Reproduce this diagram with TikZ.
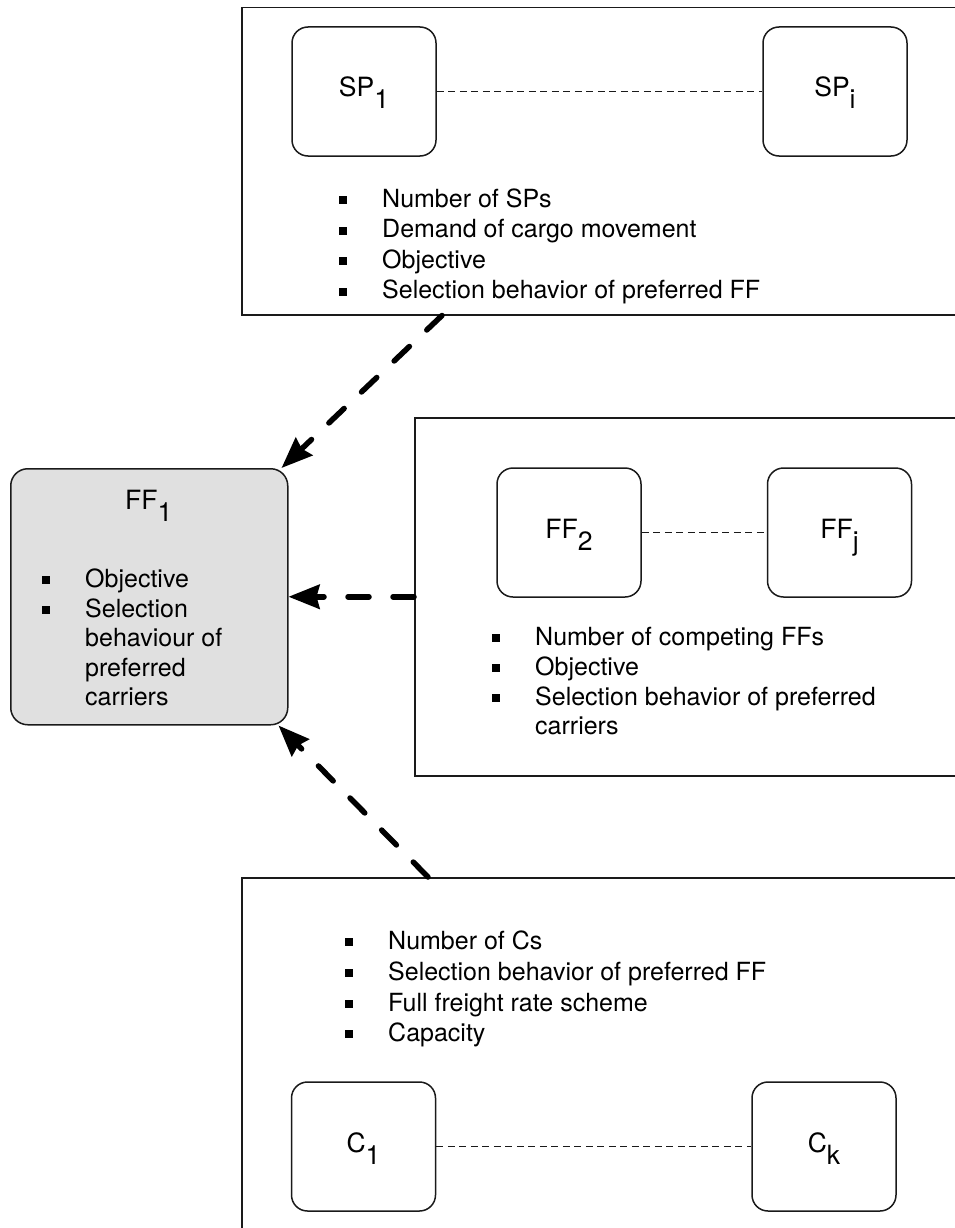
\documentclass[tikz,border=0pt]{standalone}
\usepackage{fontspec}
\setmainfont{TeX Gyre Heros}
\usetikzlibrary{arrows.meta}

\definecolor{panelgray}{HTML}{E0E0E0}
\definecolor{ink}{HTML}{1A1A1A}

% square bullet hung to the left of an item's text
\newcommand\sqb{\makebox[0pt][r]{\rule[3pt]{8pt}{8pt}\hspace{35pt}}}
% subscript set at full size, dropped below the baseline
\newcommand\lowsub[1]{\raisebox{-12pt}{#1}}

\tikzset{
  panel/.style={draw=ink, line width=1.5pt, anchor=north west, inner sep=0pt},
  agent/.style={draw=ink, line width=1.5pt, rounded corners=16pt,
    minimum width=144pt, minimum height=129pt, inner sep=0pt,
    font=\fontsize{26.5}{30}\selectfont, text height=11pt, text depth=0pt},
  item/.style={anchor=base west, inner sep=0pt, font=\fontsize{25}{30}\selectfont},
  link/.style={draw=ink, line width=1.5pt, dash pattern=on 7pt off 4.5pt},
  flow/.style={draw=black, line width=5.5pt, line cap=round,
    dash pattern=on 21pt off 24pt,
    -{Stealth[length=31pt,width=24pt,inset=3pt]}},
}

\begin{document}
\begin{tikzpicture}[x=1pt,y=-1pt]
\useasboundingbox (0,0) rectangle (955,1228);

% ---- shippers panel ----
\node[panel, minimum width=721pt, minimum height=307pt] (spbox) at (241,7) {};
\node[agent] (sp1) at (364,91.5) {SP\lowsub{1}};
\node[agent] (spi) at (835,91.5) {SP\lowsub{i}};
\draw[link] (sp1.east) -- (spi.west);
\node[item] (sp-a) at (382,207)   {\sqb Number of SPs};
\node[item] (sp-b) at (382,237.5) {\sqb Demand of cargo movement};
\node[item] (sp-c) at (382,268)   {\sqb Objective};
\node[item] (sp-d) at (382,298.5) {\sqb Selection behavior of preferred FF};

% ---- focal forwarder ----
\node[panel, fill=panelgray, rounded corners=17pt,
      minimum width=277pt, minimum height=256pt] (ff1) at (10,468) {};
\node[anchor=base west, inner sep=0pt, font=\fontsize{26.5}{30}\selectfont]
      (ff1-title) at (125,509) {FF\lowsub{1}};
\node[item] (ff1-a) at (85,587)   {\sqb Objective};
\node[item] (ff1-b) at (85,617)   {\sqb Selection};
\node[item] (ff1-c) at (85,646.5) {behaviour of};
\node[item] (ff1-d) at (85,676)   {preferred};
\node[item] (ff1-e) at (85,705.5) {carriers};

% ---- competing forwarders panel ----
\node[panel, minimum width=548pt, minimum height=358pt] (ffbox) at (414,417) {};
\node[agent] (ff2) at (569,532.5) {FF\lowsub{2}};
\node[agent] (ffj) at (839.5,532.5) {FF\lowsub{j}};
\draw[link] (ff2.east) -- (ffj.west);
\node[item] (ff-a) at (535,645) {\sqb Number of competing FFs};
\node[item] (ff-b) at (535,675) {\sqb Objective};
\node[item] (ff-c) at (535,705) {\sqb Selection behavior of preferred};
\node[item] (ff-d) at (535,734) {carriers};

% ---- carriers panel ----
\node[panel, minimum width=721pt, minimum height=362pt] (cbox) at (241,877) {};
\node[item] (c-a) at (388,949)  {\sqb Number of Cs};
\node[item] (c-b) at (388,980)  {\sqb Selection behavior of preferred FF};
\node[item] (c-c) at (388,1011) {\sqb Full freight rate scheme};
\node[item] (c-d) at (388,1041) {\sqb Capacity};
\node[agent] (c1) at (363.5,1146.5) {C\lowsub{1}};
\node[agent] (ck) at (824,1146.5) {C\lowsub{k}};
\draw[link] (c1.east) -- (ck.west);

% ---- influences on the focal forwarder ----
\draw[flow] ([xshift=201pt]spbox.south west) -- ([xshift=-7pt]ff1.north east);
\draw[flow] (ffbox.west) -- (ff1.east);
\draw[flow] ([xshift=187pt]cbox.north west) -- ([xshift=-10pt]ff1.south east);
\end{tikzpicture}
\end{document}
